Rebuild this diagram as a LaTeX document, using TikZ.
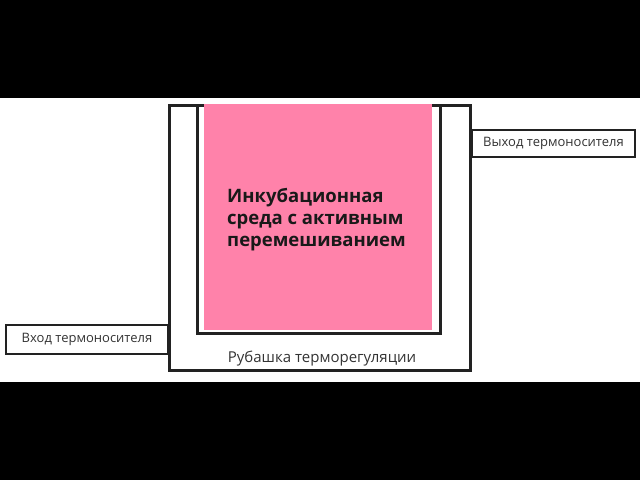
\documentclass[tikz,border=0pt]{standalone}
\usepackage{fontspec}
\setmainfont{Open Sans}
\usetikzlibrary{positioning}
\definecolor{mediumpink}{HTML}{FF82AA}
\definecolor{walldark}{HTML}{222222}

\begin{document}
\begin{tikzpicture}[x=1pt, y=-1pt,
    wall/.style={draw=walldark, line width=3pt},
    port/.style={draw=walldark, line width=2.5pt, fill=white, inner sep=0pt,
                 font=\fontsize{13}{15}\selectfont, text=black!80},
    title/.style={font=\fontsize{18.5}{22}\selectfont\bfseries, text=black!90,
                  align=left, inner sep=0pt}]
        \fill[black] (0,0) rectangle (640,480);
        \fill[white] (0,98) rectangle (640,382);
        \useasboundingbox (0,0) rectangle (640,480);
        \node[wall, minimum width=301pt, minimum height=265pt] (jacket) at (319.5,237.5) {};
        \draw[wall] (197,104) |- (440,333) -- (440,104);
        \node[fill=mediumpink, minimum width=228pt, minimum height=226pt, inner sep=0pt] (medium) at (318,217) {};
        \node[title, anchor=north west] (mediumtext) at (227,188.5) {Инкубационная\\среда с активным\\перемешиванием};
        \node[font=\fontsize{15}{17}\selectfont, text=black!80, anchor=base] (jackettext) at (322,362) {Рубашка терморегуляции};
        \node[port, minimum width=163pt, minimum height=27pt] (outlet) at (553.5,143.5) {Выход термоносителя};
        \node[port, minimum width=162pt, minimum height=29pt] (inlet) at (87,339.5) {Вход термоносителя};
    \end{tikzpicture}
\end{document}
